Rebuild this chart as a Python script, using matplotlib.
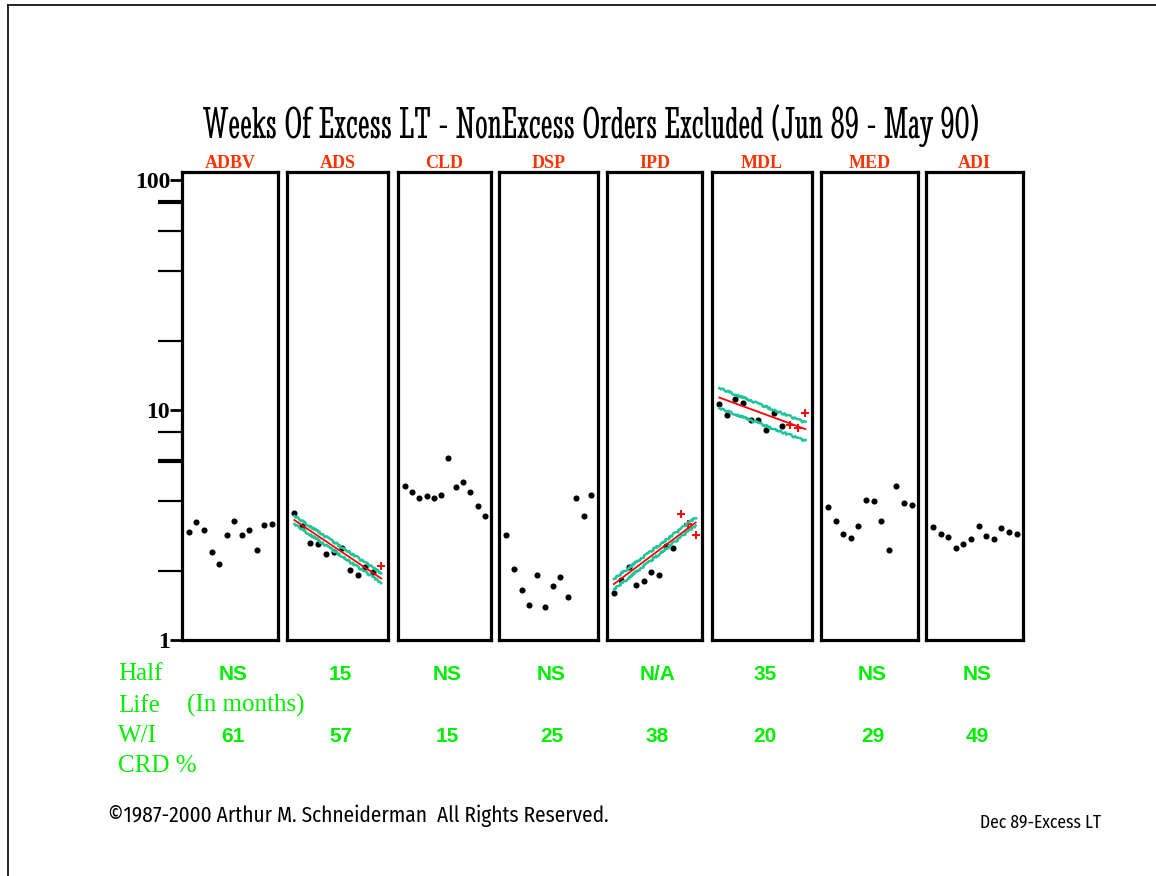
import numpy as np
import matplotlib
matplotlib.use('Agg')
import matplotlib.pyplot as plt
from matplotlib import font_manager
from matplotlib.lines import Line2D

# ---- data (weeks of excess lead time, Jun 89 - May 90) ----
units = ['ADBV', 'ADS', 'CLD', 'DSP', 'IPD', 'MDL', 'MED', 'ADI']
months = np.arange(1, 13)

adbv = [2.95, 3.27, 3.00, 2.40, 2.14, 2.86, 3.30, 2.86, 3.00, 2.47, 3.15, 3.19]
ads = [3.58, 3.14, 2.63, 2.60, 2.36, 2.40, 2.50, 2.01, 1.92, 2.08, 1.98, 2.09]
cld = [4.69, 4.40, 4.13, 4.23, 4.13, 4.26, 6.17, 4.61, 4.85, 4.40, 3.81, 3.46]
dsp = [2.85, 2.04, 1.65, 1.42, 1.91, 1.39, 1.71, 1.88, 1.54, 4.13, 3.46, 4.26]
ipd = [1.60, 1.82, 2.07, 1.73, 1.80, 1.98, 1.91, 2.55, 2.50, 3.54, 3.19, 2.85]
mdl = [10.62, 9.54, 11.16, 10.76, 9.05, 9.05, 8.19, 9.73, 8.50, 8.58, 8.38, 9.73]
med = [3.80, 3.29, 2.90, 2.77, 3.14, 4.06, 4.03, 3.29, 2.47, 4.69, 3.95, 3.86]
adi = [3.09, 2.90, 2.80, 2.51, 2.60, 2.76, 3.14, 2.83, 2.76, 3.07, 2.94, 2.90]

# how many of the last months are drawn as red "+"
plus_count = [0, 1, 0, 0, 3, 3, 0, 0]

# fitted trend (first, last month) and its band
ads_fit = [3.32, 1.85]
ads_hi = [3.46, 1.95]
ads_lo = [3.19, 1.77]
ipd_fit = [1.75, 3.24]
ipd_hi = [1.84, 3.40]
ipd_lo = [1.66, 3.14]
mdl_fit = [11.31, 8.25]
mdl_hi = [12.43, 8.81]
mdl_lo = [10.17, 7.33]

half_life = ['NS', '15', 'NS', 'NS', 'N/A', '35', 'NS', 'NS']
wi_crd = ['61', '57', '15', '25', '38', '20', '29', '49']

series = [adbv, ads, cld, dsp, ipd, mdl, med, adi]
fits = {'ADS': (ads_fit, ads_hi, ads_lo),
        'IPD': (ipd_fit, ipd_hi, ipd_lo),
        'MDL': (mdl_fit, mdl_hi, mdl_lo)}

# ---- fonts ----
names = {f.name for f in font_manager.fontManager.ttflist}
def pick(cands):
    for c in cands:
        if c in names:
            return c
    return 'DejaVu Sans'

title_font = pick(['Stint Ultra Condensed', 'DM Serif Display', 'Liberation Serif'])
narrow_font = pick(['Fira Sans Condensed', 'Encode Sans Condensed', 'Open Sans'])

def fit_width(t, target_px):
    fig.canvas.draw()
    w = t.get_window_extent().width
    t.set_fontsize(t.get_fontsize() * target_px / w)

# ---- layout ----
W, H = 1156, 876
fig = plt.figure(figsize=(W / 100, H / 100), dpi=100)

panel_px = [(182, 278), (287, 388), (398, 491), (499, 598),
            (607, 702), (712, 812), (821, 918), (926, 1023)]
top_px, bot_px = 172, 640

red = '#ff3300'
green = '#00ee00'
teal = '#1fc49c'

for i, (l, r) in enumerate(panel_px):
    ax = fig.add_axes([l / W, 1 - bot_px / H, (r - l) / W, (bot_px - top_px) / H])
    ax.set_yscale('log')
    ax.set_ylim(1, 108)
    ax.set_xlim(0.07, 12.85)
    ax.set_xticks([])
    for s in ax.spines.values():
        s.set_linewidth(2.3)
    name = units[i]
    vals = np.array(series[i])
    n = 12 - plus_count[i]
    ax.plot(months[:n], vals[:n], 'o', color='black', ms=4.4, mec='none')
    if plus_count[i]:
        ax.plot(months[n:], vals[n:], '+', color='red', ms=6, mew=1.4)
    if name in fits:
        f, hi, lo = fits[name]
        ends = [months[0], months[-1]]
        for band in (hi, lo):
            ln, = ax.plot(ends, band, color=teal, lw=1.8)
            ln.set_sketch_params(0.9, 5, 4)
        ax.plot(ends, f, color='red', lw=1.3)
    fig.text((l + r) / 2 / W, 1 - 167.5 / H, name, ha='center', va='baseline',
             color=red, fontsize=13, fontweight='bold', family='Liberation Serif')
    cx = (l + r) / 2 + 3
    fig.text(cx / W, 1 - 679.5 / H, half_life[i], ha='center', va='baseline',
             color=green, fontsize=15, fontweight='bold', family='Liberation Sans')
    fig.text(cx / W, 1 - 741.7 / H, wi_crd[i], ha='center', va='baseline',
             color=green, fontsize=15, fontweight='bold', family='Liberation Sans')
    if i == 0:
        ax.set_yticks([1, 10, 100])
        ax.set_yticklabels(['1', '10', '100'], fontsize=17, fontweight='bold',
                           family='Liberation Serif')
        ax.set_yticks([2, 4, 6, 8, 20, 40, 60, 80], minor=True)
        ax.yaxis.set_minor_formatter(plt.NullFormatter())
        ax.tick_params(axis='y', which='major', length=8.5, width=2.0, pad=0)
        ax.tick_params(axis='y', which='minor', length=17.5, width=1.6)
        for t, v in zip(ax.yaxis.get_minor_ticks(), [2, 4, 6, 8, 20, 40, 60, 80]):
            if v in (6, 80):
                t.tick1line.set_markeredgewidth(3.0)
    else:
        ax.set_yticks([])
        ax.set_yticks([], minor=True)

# row captions
cap = dict(color=green, fontsize=18, family='Liberation Serif', va='baseline')
fig.text(118 / W, 1 - 679.5 / H, 'Half', **cap)
fig.text(118 / W, 1 - 711.5 / H, 'Life', **cap)
fig.text(187 / W, 1 - 711.5 / H, '(In months)', **cap)
fig.text(118 / W, 1 - 741.7 / H, 'W/I', **cap)
fig.text(118 / W, 1 - 771.7 / H, 'CRD %', **cap)

# title, sized to the measured width
title = fig.text(591 / W, 1 - 138 / H,
                 'Weeks Of Excess LT - NonExcess Orders Excluded (Jun 89 - May 90)',
                 ha='center', va='baseline', fontsize=20, fontweight='bold',
                 family=title_font)
fit_width(title, 774)

copy = fig.text(108 / W, 1 - 822 / H,
                '\u00a91987-2000 Arthur M. Schneiderman  All Rights Reserved.',
                fontsize=12, family=narrow_font, va='baseline')
fit_width(copy, 504)
tag = fig.text(980 / W, 1 - 828 / H, 'Dec 89-Excess LT', fontsize=9,
               family=narrow_font, va='baseline')
fit_width(tag, 121)

# page border (left and top edges)
fig.add_artist(Line2D([8 / W, 8 / W], [0, 1 - 5 / H], color='black', lw=1.2))
fig.add_artist(Line2D([8 / W, 1], [1 - 5 / H, 1 - 5 / H], color='black', lw=1.2))

fig.savefig('out.png', dpi=100)
